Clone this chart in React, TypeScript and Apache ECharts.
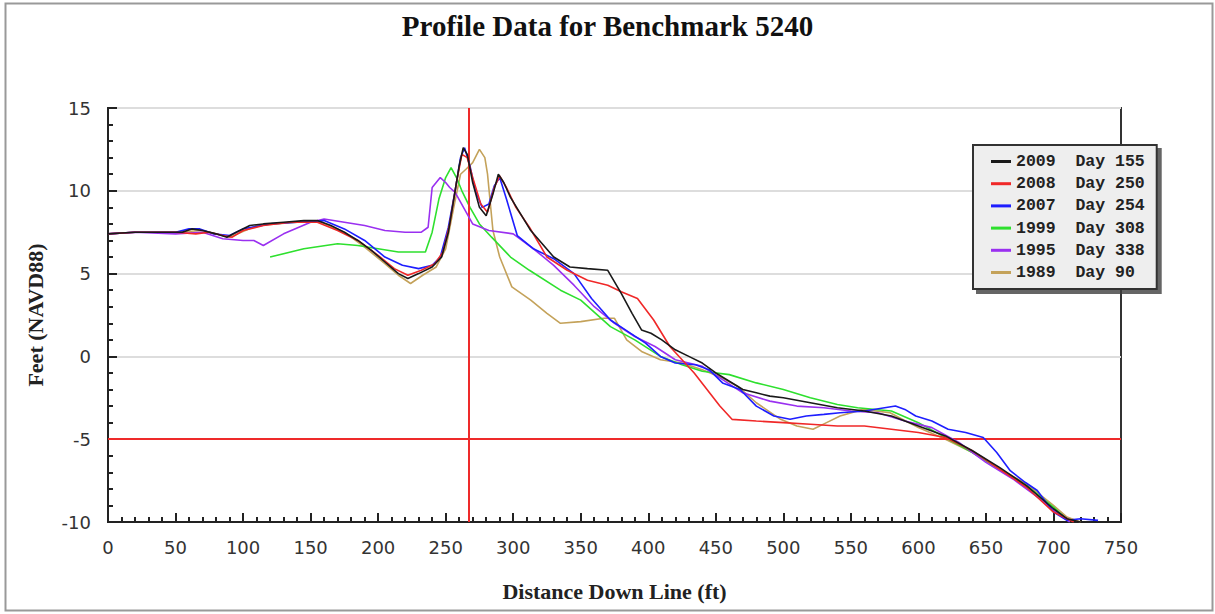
import React, { useEffect, useRef } from "react";
import * as echarts from "echarts";

const titleText = "Profile Data for Benchmark 5240";
const xName = "Distance Down Line (ft)";
const yName = "Feet (NAVD88)";
const years = ["2009", "2008", "2007", "1999", "1995", "1989"];
const days = ["155", "250", "254", "308", "338", "90"];
const colors = ["#1a1a1a", "#f02828", "#1e1eff", "#2ee02e", "#9a30f0", "#c4a25a"];
const refDistance = 267;
const refElevation = -5;

const s2009: [number, number][] = [
  [0, 7.4], [10, 7.45], [20, 7.5], [40, 7.5], [55, 7.5], [62, 7.7], [70, 7.6], [80, 7.4], [88, 7.2], [95, 7.5],
  [105, 7.9], [115, 8.0], [130, 8.1], [145, 8.2], [155, 8.2], [165, 7.9], [175, 7.5], [185, 7.0], [195, 6.4],
  [205, 5.7], [215, 5.0], [222, 4.7], [230, 5.0], [240, 5.4], [247, 6.0], [252, 7.5], [256, 9.5], [260, 11.5],
  [263, 12.6], [266, 12.2], [270, 10.5], [275, 9.0], [280, 8.5], [285, 9.8], [289, 11.0], [293, 10.5],
  [298, 9.6], [313, 7.6], [330, 6.0], [342, 5.4], [355, 5.3], [370, 5.2], [380, 3.8], [388, 2.6], [395, 1.6],
  [402, 1.4], [410, 1.0], [420, 0.4], [430, 0.0], [440, -0.4], [450, -1.0], [460, -1.5], [470, -2.0],
  [480, -2.2], [490, -2.4], [500, -2.5], [520, -2.8], [540, -3.1], [560, -3.3], [580, -3.6], [600, -4.2],
  [620, -4.8], [640, -5.7], [660, -6.7], [680, -7.8], [700, -9.2], [710, -9.8], [720, -10.0]
];
const s2008: [number, number][] = [
  [0, 7.4], [20, 7.5], [50, 7.5], [65, 7.4], [75, 7.5], [85, 7.3], [92, 7.2], [100, 7.6], [115, 7.9], [135, 8.1],
  [155, 8.1], [170, 7.6], [185, 7.0], [200, 6.1], [212, 5.3], [222, 4.9], [232, 5.2], [242, 5.6], [248, 6.3],
  [253, 8.0], [258, 10.5], [262, 12.2], [266, 12.0], [270, 10.8], [276, 9.2], [281, 8.7], [286, 10.2],
  [290, 10.9], [295, 10.2], [302, 9.0], [312, 7.8], [325, 6.0], [340, 5.2], [355, 4.6], [370, 4.3],
  [380, 3.9], [392, 3.5], [404, 2.2], [416, 0.6], [434, -1.0], [453, -3.0], [462, -3.8], [480, -3.9],
  [500, -4.0], [520, -4.1], [540, -4.2], [560, -4.2], [580, -4.4], [600, -4.6], [620, -4.9], [640, -5.7],
  [660, -6.8], [680, -7.9], [700, -9.4], [715, -10.0]
];
const s2007: [number, number][] = [
  [0, 7.4], [20, 7.5], [50, 7.5], [60, 7.7], [68, 7.7], [78, 7.4], [90, 7.3], [100, 7.7], [120, 8.0], [140, 8.1],
  [160, 8.2], [175, 7.7], [190, 7.0], [205, 6.0], [218, 5.5], [230, 5.3], [240, 5.5], [246, 6.0], [252, 7.8],
  [257, 10.0], [261, 12.0], [264, 12.6], [268, 11.5], [272, 10.0], [277, 9.0], [282, 9.2], [286, 10.3],
  [290, 10.8], [295, 9.5], [303, 7.3], [315, 6.5], [330, 5.9], [345, 5.0], [358, 3.5], [372, 2.2], [385, 1.5],
  [398, 0.8], [409, 0.0], [420, -0.4], [435, -0.5], [445, -0.8], [455, -1.6], [468, -2.0], [480, -3.0],
  [493, -3.6], [505, -3.8], [517, -3.6], [530, -3.5], [542, -3.4], [560, -3.3], [575, -3.1], [583, -3.0],
  [590, -3.2], [598, -3.6], [610, -3.9], [622, -4.4], [635, -4.6], [648, -4.9], [658, -5.8], [668, -6.9],
  [679, -7.6], [688, -8.1], [700, -9.4], [710, -9.9], [720, -9.8], [733, -9.9]
];
const s1999: [number, number][] = [
  [120, 6.0], [145, 6.5], [170, 6.8], [185, 6.7], [200, 6.5], [215, 6.3], [235, 6.3], [240, 7.5], [245, 9.5],
  [250, 10.8], [254, 11.4], [258, 10.8], [262, 10.0], [268, 9.0], [275, 8.0], [284, 7.2], [298, 6.0],
  [312, 5.2], [335, 4.0], [350, 3.4], [372, 1.8], [390, 1.0], [409, 0.0], [425, -0.5], [440, -0.9],
  [460, -1.1], [480, -1.6], [500, -2.0], [520, -2.5], [540, -2.9], [555, -3.1], [580, -3.3], [600, -4.0],
  [620, -4.9], [640, -5.8], [660, -6.8], [680, -7.8], [700, -9.1], [712, -10.0]
];
const s1995: [number, number][] = [
  [0, 7.4], [20, 7.5], [50, 7.4], [70, 7.5], [85, 7.1], [100, 7.0], [108, 7.0], [115, 6.7], [130, 7.4],
  [150, 8.1], [160, 8.3], [175, 8.1], [190, 7.9], [205, 7.6], [220, 7.5], [232, 7.5], [237, 7.8], [240, 10.2],
  [246, 10.8], [250, 10.5], [253, 10.2], [257, 9.9], [270, 8.0], [282, 7.6], [300, 7.4], [315, 6.5],
  [330, 5.5], [345, 4.3], [360, 3.0], [375, 2.0], [390, 1.2], [405, 0.6], [420, -0.2], [440, -0.6],
  [455, -1.4], [470, -2.2], [490, -2.7], [510, -3.0], [530, -3.1], [550, -3.3], [570, -3.4], [590, -3.9],
  [610, -4.3], [630, -5.2], [650, -6.4], [670, -7.4], [690, -8.6], [700, -9.3], [712, -10.0]
];
const s1989: [number, number][] = [
  [0, 7.4], [20, 7.5], [50, 7.5], [70, 7.6], [90, 7.2], [110, 7.9], [140, 8.1], [158, 8.1], [175, 7.5],
  [190, 6.6], [205, 5.6], [215, 4.9], [224, 4.4], [233, 4.9], [243, 5.4], [250, 6.5], [256, 9.0], [261, 11.0],
  [265, 11.3], [270, 11.7], [275, 12.5], [279, 12.0], [281, 11.0], [285, 7.6], [290, 6.0], [299, 4.2],
  [313, 3.4], [325, 2.6], [335, 2.0], [350, 2.1], [367, 2.3], [375, 2.3], [384, 1.0], [395, 0.3], [409, -0.2],
  [425, -0.4], [440, -0.8], [455, -1.3], [466, -1.8], [480, -2.8], [498, -3.8], [510, -4.2], [522, -4.4],
  [532, -4.0], [542, -3.6], [559, -3.2], [579, -3.4], [600, -4.3], [620, -5.0], [640, -5.8], [660, -6.8],
  [680, -7.7], [700, -9.0], [710, -9.7], [720, -10.0]
];
const seriesData = [s2009, s2008, s2007, s1999, s1995, s1989];
const zOrder = [8, 7, 6, 4, 5, 3];

export default function App() {
  const ref = useRef<HTMLDivElement>(null);
  useEffect(() => {
    if (!ref.current) return;
    const chart = echarts.init(ref.current, null, { renderer: "svg" });
    const names = years.map((y, i) => `${y}\u00a0\u00a0Day\u00a0${days[i]}`);
    const series: any[] = seriesData.map((d, i) => ({
      type: "line",
      name: names[i],
      data: d,
      showSymbol: false,
      symbol: "none",
      z: zOrder[i],
      lineStyle: { color: colors[i], width: 1.6 },
      itemStyle: { color: colors[i] },
    }));
    series.push({
      type: "line",
      name: "ref",
      data: [],
      z: 2,
      markLine: {
        silent: true,
        symbol: "none",
        label: { show: false },
        lineStyle: { color: "#ee2a2a", width: 2, type: "solid" },
        data: [{ xAxis: refDistance }, { yAxis: refElevation }],
      },
    });
    chart.setOption({
      animation: false,
      backgroundColor: "#ffffff",
      title: {
        text: titleText,
        left: "center",
        top: 6,
        textStyle: { fontFamily: "Liberation Serif", fontWeight: "bold", fontSize: 29, color: "#111" },
      },
      legend: {
        data: names,
        orient: "vertical",
        left: 973,
        top: 145,
        backgroundColor: "#eeeeee",
        borderColor: "#333",
        borderWidth: 2,
        borderRadius: 0,
        shadowColor: "rgba(60,60,60,0.8)",
        shadowOffsetX: 4,
        shadowOffsetY: 4,
        shadowBlur: 0,
        padding: [8, 12, 8, 18],
        itemGap: 5.2,
        itemWidth: 20,
        itemHeight: 3,
        icon: "rect",
        textStyle: { fontFamily: "Liberation Mono", fontWeight: "bold", fontSize: 16.5, color: "#222", lineHeight: 14 },
      },
      grid: {
        left: 108,
        right: 94,
        top: 108,
        bottom: 92,
        show: true,
        borderColor: "#333",
        borderWidth: 2,
      },
      xAxis: {
        type: "value",
        min: 0,
        max: 750,
        interval: 50,
        name: xName,
        nameLocation: "middle",
        nameGap: 58,
        nameTextStyle: { fontFamily: "Liberation Serif", fontWeight: "bold", fontSize: 22, color: "#222" },
        axisLine: { show: true, onZero: false, lineStyle: { color: "#222", width: 2 } },
        axisTick: { show: true, inside: true, length: 9, lineStyle: { color: "#222", width: 2 } },
        minorTick: { show: true, splitNumber: 5, length: 5, lineStyle: { color: "#222", width: 2 } },
        axisLabel: { fontFamily: "DejaVu Sans", fontSize: 18, color: "#333", margin: 16 },
        splitLine: { show: false },
      },
      yAxis: {
        type: "value",
        min: -10,
        max: 15,
        interval: 5,
        name: yName,
        nameLocation: "middle",
        nameGap: 62,
        nameRotate: 90,
        nameTextStyle: { fontFamily: "Liberation Serif", fontWeight: "bold", fontSize: 22, color: "#222" },
        axisLine: { show: true, onZero: false, lineStyle: { color: "#222", width: 2 } },
        axisTick: { show: true, inside: true, length: 9, lineStyle: { color: "#222", width: 2 } },
        minorTick: { show: true, splitNumber: 5, length: 5, lineStyle: { color: "#222", width: 2 } },
        axisLabel: { fontFamily: "DejaVu Sans", fontSize: 18, color: "#333", margin: 17 },
        splitLine: { show: true, lineStyle: { color: "#dddddd", width: 2 } },
      },
      graphic: [
        {
          type: "rect",
          left: 3,
          top: 1,
          shape: { width: 1207, height: 607 },
          style: { fill: "none", stroke: "#999", lineWidth: 2 },
          silent: true,
          z: -1,
        },
      ],
      series,
    });
    return () => chart.dispose();
  }, []);
  return <div ref={ref} style={{ width: 1215, height: 614, position: "absolute", left: 0, top: 0 }} />;
}
